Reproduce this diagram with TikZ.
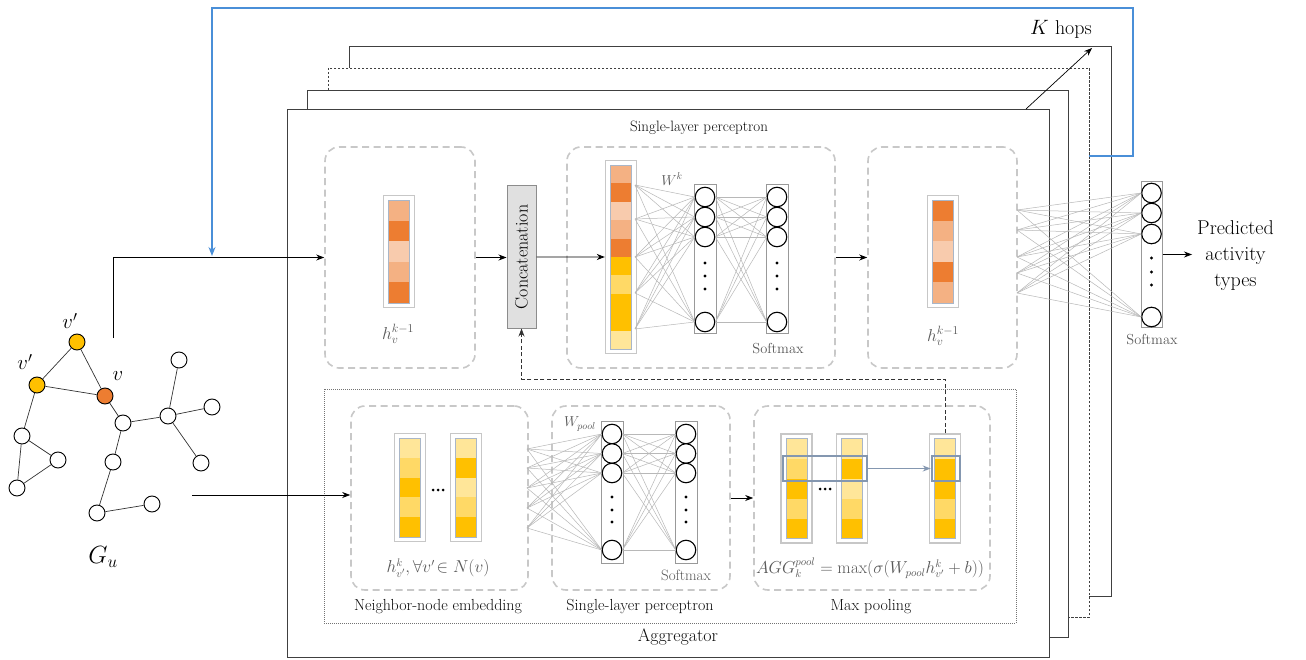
\documentclass[tikz,border=0pt]{standalone}
\usepackage{amsmath}
\usetikzlibrary{arrows.meta}
\definecolor{Oa}{HTML}{ED7D31}
\definecolor{Ob}{HTML}{F4B183}
\definecolor{Oc}{HTML}{F8CBAD}
\definecolor{Ya}{HTML}{FFC000}
\definecolor{Yb}{HTML}{FFD966}
\definecolor{Yc}{HTML}{FFE699}
\definecolor{GB}{HTML}{C8C8C8}
\definecolor{HL}{HTML}{8497B0}
\definecolor{TG}{HTML}{595959}
\definecolor{BL}{HTML}{4A8FD8}
% name, cx, ytop, ncells, cellh, colours
\newcommand{\vbar}[6]{%
  \node[vout, minimum width=31pt, minimum height={#4*#5+9}] (#1) at (#2,{#3+#4*#5/2}) {};
  \foreach \c [count=\i from 0] in {#6} {\fill[\c] ({#2-10.5},{#3+\i*#5}) rectangle ({#2+10.5},{#3+(\i+1)*#5});}
  \draw[HL!70, line width=0.6pt] ({#2-10.5},#3) rectangle ({#2+10.5},{#3+#4*#5});
}
\begin{document}
\begin{tikzpicture}[x=1pt,y=-1pt,
  gbox/.style={draw=GB, line width=1.6pt, dash pattern=on 7pt off 4.5pt, rounded corners=14pt, inner sep=0pt},
  frame/.style={draw=black!75, fill=white, line width=0.9pt},
  neuron/.style={circle, draw=black, line width=1.1pt, fill=white, minimum size=19.5pt, inner sep=0pt},
  layer/.style={draw=black!40, line width=1pt, inner sep=0pt, minimum width=22pt},
  conn/.style={draw=black!28, line width=0.5pt},
  arr/.style={-{Stealth[length=8pt,width=6pt]}, line width=0.8pt, draw=black},
  gnode/.style={circle, draw=black, line width=0.9pt, fill=white, minimum size=16pt, inner sep=0pt},
  vout/.style={draw=black!22, line width=1.4pt, fill=white, inner sep=0pt},
  hlbox/.style={draw=HL, line width=2.6pt, inner sep=0pt},
  lab/.style={text=TG, inner sep=0pt},
  ttl/.style={text=black!95, inner sep=0pt},
  fnt/.style={font=\fontsize{#1}{#1}\selectfont},
]
\useasboundingbox (0,0) rectangle (1306,660);

% ---------- stacked frames ----------
\draw[frame] (349,46) rectangle (1111,596);
\draw[frame, dash pattern=on 2.5pt off 1.5pt] (328,68) rectangle (1089,617);
\draw[frame] (307,90) rectangle (1068,637);
\node[frame, minimum width=762pt, minimum height=548pt, inner sep=0pt] (F) at (668,383) {};

% K hops
\coordinate (k1) at (1026,109);
\coordinate (k2) at (1092,48);
\draw[arr, line width=0.7pt] (k1) -- (k2);
\node[fnt=20, inner sep=0pt] (kh) at (1061,29) {$K$ hops};

% blue feedback line
\coordinate (bs) at (1089,156);
\coordinate (be) at (212,256);
\draw[BL, line width=1.3pt, -{Stealth[length=9pt,width=7pt]}] (bs) -- (1133,156) -- (1133,8) -- (212,8) -- (be);

% ---------- top row ----------
\node[ttl, fnt=15] (t1) at (699,128) {Single-layer perceptron};
\node[gbox, minimum width=150pt, minimum height=221pt] (b1) at (400,257.5) {};
\node[gbox, minimum width=268pt, minimum height=221pt] (b2) at (701,257.5) {};
\node[gbox, minimum width=149pt, minimum height=221pt] (b3) at (942.5,257.5) {};
\node[draw=black!45, fill=black!12, line width=1pt, minimum width=29pt, minimum height=142pt, inner sep=0pt] (cat) at (521.5,257) {};
\node[rotate=90, fnt=18, inner sep=0pt] (cattxt) at (cat) {Concatenation};

\vbar{v1}{399}{200}{5}{20.6}{Ob,Oa,Oc,Ob,Oa}
\vbar{v2}{621}{165}{10}{18.4}{Ob,Oa,Oc,Ob,Oa,Ya,Yb,Ya,Ya,Yc}
\vbar{v3}{943}{200}{5}{20.6}{Oa,Ob,Oc,Oa,Ob}

\node[lab, fnt=18] (hl1) at (398,334) {$h_v^{k-1}$};
\node[lab, fnt=18] (hl3) at (943,336) {$h_v^{k-1}$};
\node[lab, fnt=14] (wk) at (672,179) {$W^k$};
\node[lab, fnt=14.5] (sm1) at (778,349) {Softmax};

% top perceptron layers
\node[layer, minimum height=148pt] (LA) at (705,259) {};
\node[layer, minimum height=148pt] (LB) at (777,259) {};
\foreach \y [count=\i] in {197,217,237,322} {
  \node[neuron] (ta\i) at (705,\y) {};
  \node[neuron] (tb\i) at (777,\y) {};
}
\foreach \y in {263,276,289} {\fill (705,\y) circle (1.6); \fill (777,\y) circle (1.6);}
\foreach \y [count=\i] in {185,219,257,293,329} \coordinate (ts\i) at (635,\y);
\foreach \i in {1,...,5} \foreach \j in {1,...,4} \draw[conn] (ts\i) -- (ta\j.west);
\foreach \i in {1,...,4} \foreach \j in {1,...,4} \draw[conn] (ta\i.east) -- (tb\j.west);

% output layer
\node[layer, minimum width=21pt, minimum height=145pt] (OL) at (1151.5,254.5) {};
\foreach \y [count=\i] in {193,213,234,317} \node[neuron] (oa\i) at (1151.5,\y) {};
\foreach \y in {258,272,285} \fill (1151.5,\y) circle (1.6);
\foreach \y [count=\i] in {210,230,257,273,293} \coordinate (os\i) at (1017,\y);
\foreach \i in {1,...,5} \foreach \j in {1,...,4} \draw[conn] (os\i) -- (oa\j.west);
\node[lab, fnt=14.5] (sm3) at (1152,340) {Softmax};
\node[font=\fontsize{20}{26}\selectfont, align=center, anchor=west, inner sep=5pt] (pred) at (1192,256) {Predicted\\activity\\types};

% top arrows
\coordinate (in1) at (113,338);
\draw[arr] (in1) |- (b1.west);
\draw[arr] (b1.east) -- (b1.east -| cat.west);
\draw[arr] (cat.east) -- (v2.west);
\draw[arr] (b2.east) -- (b3.west);
\draw[arr] (OL.east) -- (OL.east -| pred.west);

% ---------- aggregator ----------
\node[draw=black!55, dash pattern=on 1pt off 1pt, line width=0.8pt, minimum width=692pt, minimum height=234pt, inner sep=0pt] (agg) at (670,506) {};
\node[ttl, fnt=18] (aggt) at (678,637) {Aggregator};

\node[gbox, minimum width=177pt, minimum height=184pt] (b4) at (439.5,498) {};
\node[gbox, minimum width=178pt, minimum height=184pt] (b5) at (641,498) {};
\node[gbox, minimum width=236pt, minimum height=184pt] (b6) at (872,498) {};

\vbar{v4a}{410}{438}{5}{19.8}{Yc,Yb,Ya,Yb,Ya}
\vbar{v4b}{466}{438}{5}{19.8}{Yc,Ya,Yc,Yb,Ya}
\foreach \d in {-5,0,5} \fill (438+\d,490) circle (1.5);
\node[lab, fnt=16] (hl4) at (438,568) {$h_{v'}^{k},\forall v'\!\in N(v)$};
\node[ttl, fnt=16] (t4) at (438,607) {Neighbor-node embedding};

% bottom perceptron
\node[layer, minimum height=142pt] (BA) at (612,492) {};
\node[layer, minimum height=142pt] (BB) at (686,492) {};
\foreach \y [count=\i] in {434,453.5,473,550} {
  \node[neuron] (ba\i) at (612,\y) {};
  \node[neuron] (bb\i) at (686,\y) {};
}
\foreach \y in {497,510,522} {\fill (612,\y) circle (1.6); \fill (686,\y) circle (1.6);}
\foreach \y [count=\i] in {449,468,488,508,528} \coordinate (bs\i) at (527,\y);
\foreach \i in {1,...,5} \foreach \j in {1,...,4} \draw[conn] (bs\i) -- (ba\j.west);
\foreach \i in {1,...,4} \foreach \j in {1,...,4} \draw[conn] (ba\i.east) -- (bb\j.west);
\node[lab, fnt=14] (wp) at (580,424) {$W_{pool}$};
\node[lab, fnt=15] (sm2) at (686,575) {Softmax};
\node[ttl, fnt=16] (t5) at (640,607) {Single-layer perceptron};

% max pooling
\vbar{v6a}{796.5}{438.5}{5}{20}{Yc,Yb,Ya,Yb,Ya}
\vbar{v6b}{852}{438.5}{5}{20}{Yc,Ya,Yc,Yb,Ya}
\vbar{v6c}{945}{438.5}{5}{20}{Yc,Ya,Ya,Yb,Ya}
\foreach \d in {-5,0,5} \fill (825+\d,489) circle (1.5);
\node[hlbox, minimum width=84pt, minimum height=25pt] (h1) at (825,468.5) {};
\node[hlbox, minimum width=28pt, minimum height=25pt] (h2) at (946,468.5) {};
\draw[-{Stealth[length=8pt,width=6pt]}, HL, line width=1.6pt] (h1.east) -- (h2.west);
\node[lab, fnt=16] (form) at (870,568) {$AGG_k^{pool}=\max(\sigma(W_{pool}h^k_{v'}+b))$};
\node[ttl, fnt=16] (t6) at (871,607) {Max pooling};

% bottom arrows
\coordinate (in2) at (192,495);
\draw[arr] (in2) -- (in2 -| b4.west);
\draw[arr] (b5.east) -- (b6.west);
\coordinate (fbl) at (521.5,379);
\draw[arr, draw=black!80, dash pattern=on 4pt off 2.5pt] (v6c.north) |- (fbl) -- (cat.south);

% ---------- graph ----------
\node[gnode, fill=Ya] (gt) at (77,342) {};
\node[gnode, fill=Ya] (gl) at (37,385) {};
\node[gnode, fill=Oa] (gv) at (105,396) {};
\node[gnode] (n1) at (123,423) {};
\node[gnode] (n2) at (168,416) {};
\node[gnode] (n3) at (179,360) {};
\node[gnode] (n4) at (212,407) {};
\node[gnode] (n5) at (201,463) {};
\node[gnode] (n6) at (113,462) {};
\node[gnode] (n7) at (97,513) {};
\node[gnode] (n8) at (152,504) {};
\node[gnode] (n9) at (22,436) {};
\node[gnode] (n10) at (58,460) {};
\node[gnode] (n11) at (17,488) {};
\foreach \a/\b in {gt/gl,gt/gv,gl/gv,gl/n9,n9/n10,n9/n11,n10/n11,gv/n1,n1/n2,n2/n3,n2/n4,n2/n5,n1/n6,n6/n7,n7/n8}
  \draw[black!80, line width=0.7pt] (\a) -- (\b);
\node[fnt=20, inner sep=0pt] (lt) at (70,321) {$v'$};
\node[fnt=20, inner sep=0pt] (ll) at (25,362) {$v'$};
\node[fnt=20, inner sep=0pt] (lv) at (118,376) {$v$};
\node[fnt=26, inner sep=0pt] (gu) at (103,557) {$G_u$};
\end{tikzpicture}
\end{document}
